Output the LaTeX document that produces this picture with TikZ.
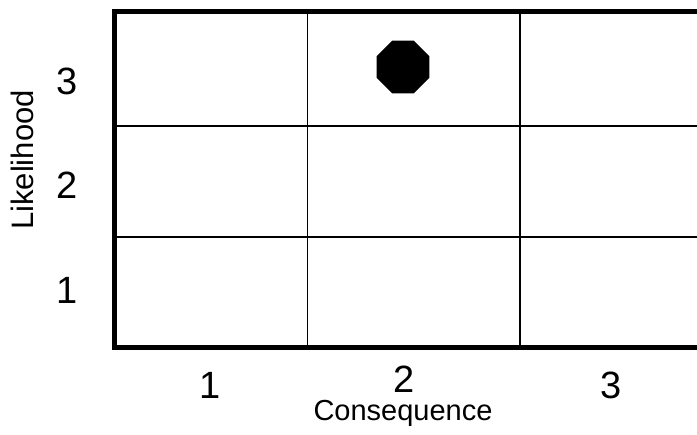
\documentclass[tikz,border=0pt]{standalone}
\usepackage{fontspec}
\setmainfont{Liberation Sans}
\usetikzlibrary{shapes.geometric}
\begin{document}
\begin{tikzpicture}[x=1pt, y=-1pt,
    frame/.style={black, line width=5pt, line join=miter},
    cellline/.style={black, line width=1.6pt},
    ticklabel/.style={font=\fontsize{38}{40}\selectfont, inner sep=0pt},
    axislabel/.style={font=\fontsize{29}{32}\selectfont, inner sep=0pt},
    marker/.style={regular polygon, regular polygon sides=8, fill=black,
      inner sep=0pt, minimum size=57pt}]
    \useasboundingbox (0,0) rectangle (697,435);
    \clip (0,0) rectangle (697,435);

    % inner grid lines
    \draw[cellline] (307.5,11.5) -- (307.5,348);
    \draw[cellline] (520,11.5) -- (520,348);
    \draw[cellline] (114.5,126) -- (710,126);
    \draw[cellline] (114.5,237) -- (710,237);

    % thick frame (right side lies outside the picture)
    \draw[frame] (730,11.5) -- (114.5,11.5) -- (114.5,348) -- (730,348);

    % risk marker
    \node[marker] (risk) at (403,67) {};

    % likelihood axis
    \node[ticklabel] (l3) at (67,81) {3};
    \node[ticklabel] (l2) at (67,185) {2};
    \node[ticklabel] (l1) at (67,290) {1};
    \node[axislabel, font=\fontsize{31}{34}\selectfont, rotate=90] (likelihood) at (22,160) {Likelihood};

    % consequence axis
    \node[ticklabel] (c1) at (210,385) {1};
    \node[ticklabel] (c2) at (404,379) {2};
    \node[ticklabel] (c3) at (611,385) {3};
    \node[axislabel, anchor=base] (consequence) at (403,421) {Consequence};
\end{tikzpicture}
\end{document}
